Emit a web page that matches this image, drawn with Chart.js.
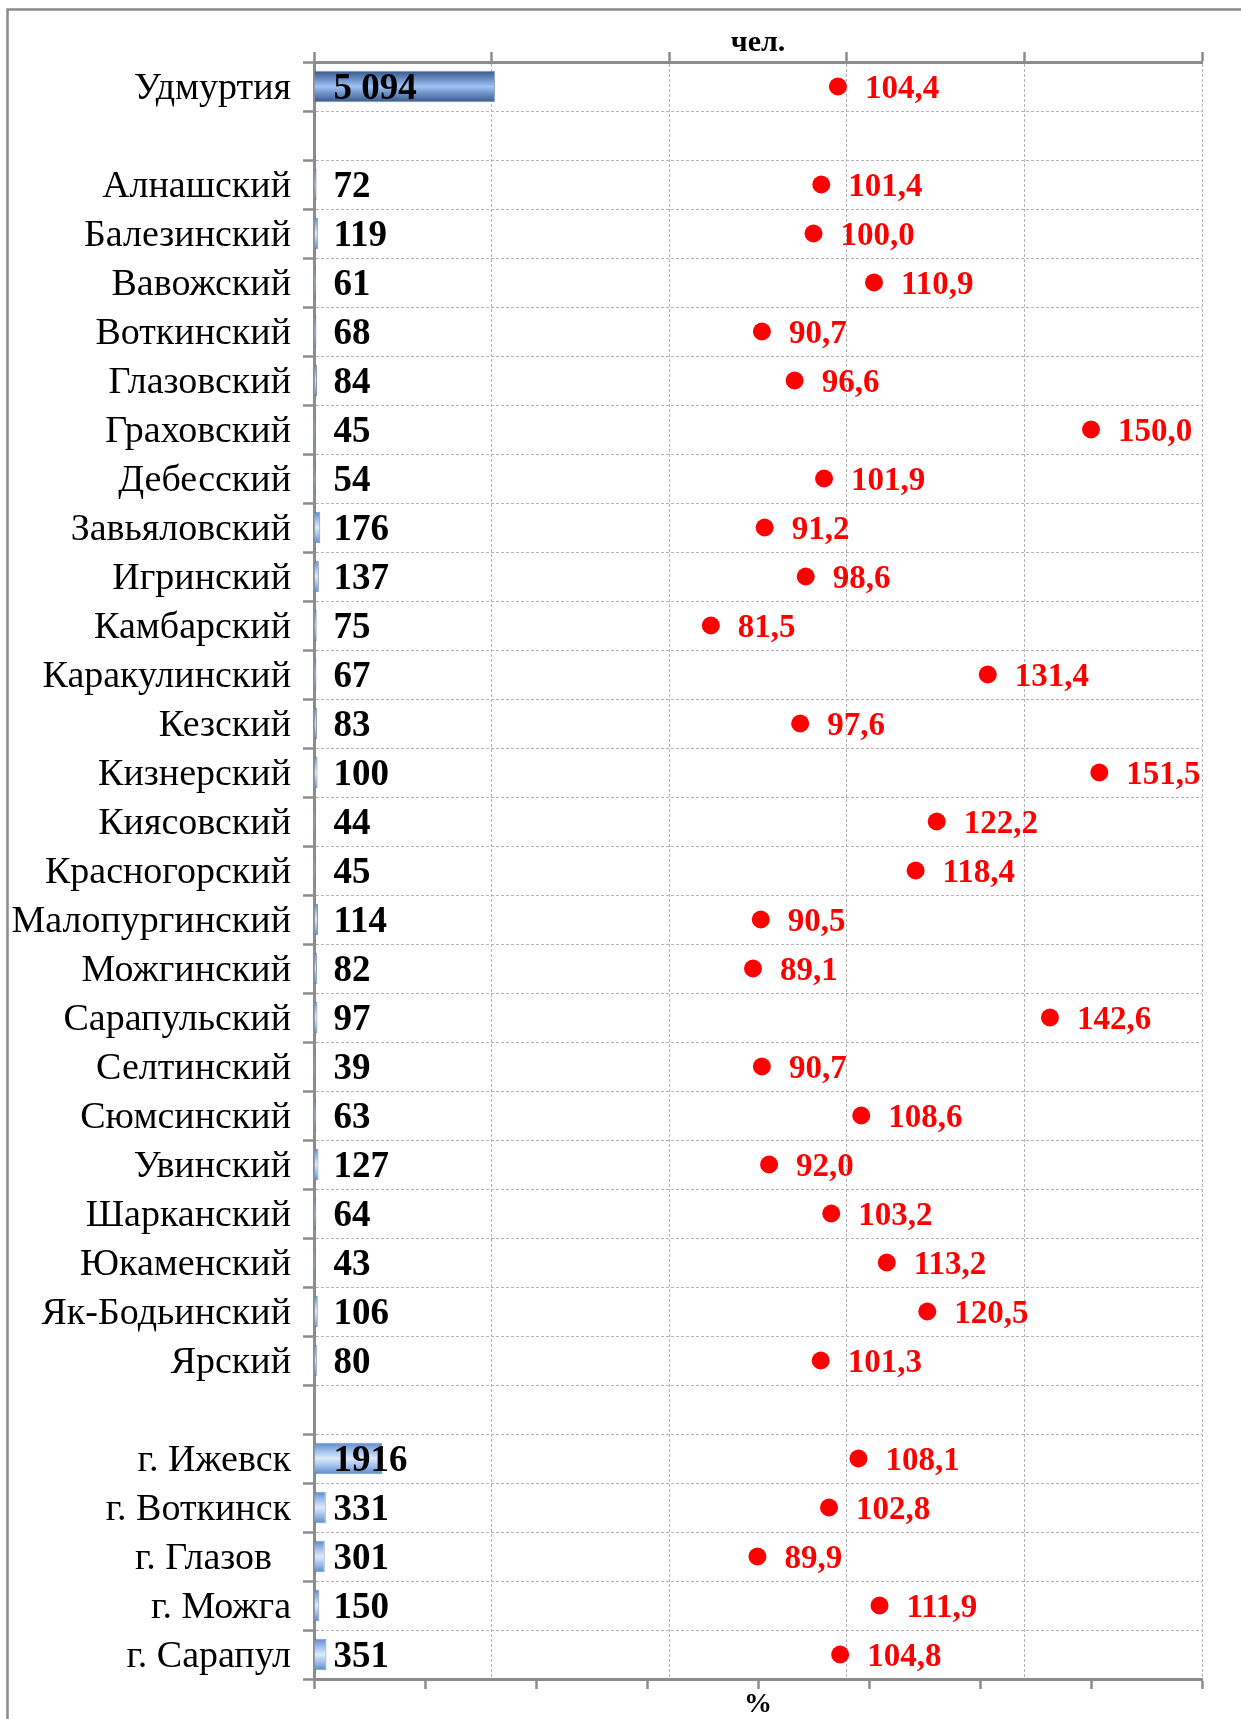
<!DOCTYPE html>
<html lang="ru">
<head>
<meta charset="utf-8">
<title>Удмуртия</title>
<script src="https://cdn.jsdelivr.net/npm/chart.js@4.4.1/dist/chart.umd.min.js"></script>
<style>
  html, body { margin: 0; padding: 0; background: #fff; }
  canvas { display: block; }
</style>
</head>
<body>
<canvas id="chart" width="1241" height="1719"></canvas>
<script>
// rows: republic total, districts, cities (blank rows separate the groups)
const areas = [
  'Удмуртия', '',
  'Алнашский', 'Балезинский', 'Вавожский', 'Воткинский', 'Глазовский',
  'Граховский', 'Дебесский', 'Завьяловский', 'Игринский', 'Камбарский',
  'Каракулинский', 'Кезский', 'Кизнерский', 'Киясовский', 'Красногорский',
  'Малопургинский', 'Можгинский', 'Сарапульский', 'Селтинский', 'Сюмсинский',
  'Увинский', 'Шарканский', 'Юкаменский', 'Як-Бодьинский', 'Ярский', '',
  'г. Ижевск', 'г. Воткинск', 'г. Глазов  ', 'г. Можга', 'г. Сарапул'
];

// people, чел.
const persons = [
  5094, null,
  72, 119, 61, 68, 84,
  45, 54, 176, 137, 75,
  67, 83, 100, 44, 45,
  114, 82, 97, 39, 63,
  127, 64, 43, 106, 80, null,
  1916, 331, 301, 150, 351
];

// change, %
const percents = [
  104.4, null,
  101.4, 100.0, 110.9, 90.7, 96.6,
  150.0, 101.9, 91.2, 98.6, 81.5,
  131.4, 97.6, 151.5, 122.2, 118.4,
  90.5, 89.1, 142.6, 90.7, 108.6,
  92.0, 103.2, 113.2, 120.5, 101.3, null,
  108.1, 102.8, 89.9, 111.9, 104.8
];

const countAxis = { min: 0, max: 25000, step: 5000 };
const percentAxis = { min: 10, max: 170, step: 20 };

const SERIF = '"Liberation Serif", "Times New Roman", serif';
const AXIS_GREY = '#8c8c8c';
const GRID_GREY = '#b3b3b3';
const BAR_SHARE = 0.64;

const fmtCount = (v, i) => i === 0 ? String(v).replace(/\B(?=(\d{3})+(?!\d))/g, ' ') : String(v);
const fmtPercent = v => v.toFixed(1).replace('.', ',');

// vertical gradient for each bar; the total row is darker
function barFill(c) {
  const chart = c.chart;
  const y = chart.scales.y;
  if (!y || c.dataIndex === undefined || !chart.chartArea) return '#7fa5dd';
  const row = y.height / areas.length;
  const h = row * BAR_SHARE;
  const yc = y.getPixelForValue(c.dataIndex);
  const g = chart.ctx.createLinearGradient(0, yc - h / 2, 0, yc + h / 2);
  const stops = c.dataIndex === 0
    ? ['#37578a', '#7195cc', '#a2c2f3', '#7195cc', '#37578a']
    : ['#5b8bcf', '#aac7ef', '#dce9fb', '#aac7ef', '#5b8bcf'];
  [0, 0.3, 0.5, 0.7, 1].forEach((p, k) => g.addColorStop(p, stops[k]));
  return g;
}

const frame = {
  id: 'frame',
  beforeDraw(chart) {
    const { ctx, width, height } = chart;
    ctx.save();
    ctx.fillStyle = '#fff';
    ctx.fillRect(0, 0, width, height);
    ctx.strokeStyle = AXIS_GREY;
    ctx.lineWidth = 2.5;
    ctx.beginPath();
    ctx.moveTo(7.5, height);
    ctx.lineTo(7.5, 9.5);
    ctx.lineTo(width, 9.5);
    ctx.stroke();
    ctx.restore();
  }
};

const valueLabels = {
  id: 'valueLabels',
  afterDatasetsDraw(chart) {
    const ctx = chart.ctx;
    ctx.save();
    ctx.textAlign = 'left';
    ctx.textBaseline = 'middle';

    ctx.font = 'bold 37px ' + SERIF;
    ctx.fillStyle = '#000';
    chart.getDatasetMeta(0).data.forEach((bar, i) => {
      if (persons[i] == null) return;
      ctx.fillText(fmtCount(persons[i], i), bar.base + 19, bar.y + 3);
    });

    ctx.font = 'bold 33px ' + SERIF;
    ctx.fillStyle = '#ff0000';
    chart.getDatasetMeta(1).data.forEach((pt, i) => {
      if (percents[i] == null) return;
      ctx.fillText(fmtPercent(percents[i]), pt.x + 27, pt.y + 3);
    });
    ctx.restore();
  }
};

new Chart(document.getElementById('chart'), {
  type: 'bar',
  data: {
    labels: areas,
    datasets: [
      {
        label: 'чел.',
        data: persons,
        xAxisID: 'x',
        yAxisID: 'y',
        backgroundColor: barFill,
        borderColor: 'rgba(70,105,160,0.7)',
        borderWidth: 1,
        categoryPercentage: 1,
        barPercentage: BAR_SHARE,
        order: 2
      },
      {
        type: 'line',
        label: '%',
        data: percents,
        xAxisID: 'x2',
        yAxisID: 'y',
        showLine: false,
        pointRadius: 9,
        pointHoverRadius: 9,
        pointBorderWidth: 0,
        pointBackgroundColor: '#ff0000',
        backgroundColor: '#ff0000',
        borderColor: '#ff0000',
        order: 1
      }
    ]
  },
  options: {
    indexAxis: 'y',
    responsive: false,
    animation: false,
    devicePixelRatio: 1,
    layout: { padding: { left: 0, right: 39, top: 0, bottom: 0 } },
    plugins: {
      legend: { display: false },
      tooltip: { enabled: false }
    },
    scales: {
      x: {
        type: 'linear',
        position: 'top',
        min: countAxis.min,
        max: countAxis.max,
        ticks: { display: false, stepSize: countAxis.step },
        grid: { color: GRID_GREY, lineWidth: 1, tickLength: 10, tickColor: AXIS_GREY, tickWidth: 2.5 },
        border: { color: AXIS_GREY, width: 3, dash: [3, 2] },
        title: {
          display: true,
          text: 'чел.',
          color: '#000',
          font: { family: SERIF, size: 30, weight: 'bold' },
          padding: { top: 25, bottom: 0 }
        },
        afterFit: s => { s.height = 62; }
      },
      x2: {
        type: 'linear',
        position: 'bottom',
        min: percentAxis.min,
        max: percentAxis.max,
        ticks: { display: false, stepSize: percentAxis.step },
        grid: { drawOnChartArea: false, tickLength: 10, tickColor: AXIS_GREY, tickWidth: 2.5 },
        border: { color: AXIS_GREY, width: 3 },
        title: {
          display: true,
          text: '%',
          color: '#000',
          font: { family: SERIF, size: 28, weight: 'bold', lineHeight: 1 },
          padding: { top: 0, bottom: 0 }
        },
        afterFit: s => { s.height = 40; }
      },
      y: {
        type: 'category',
        position: 'left',
        offset: true,
        grid: { offset: true, color: GRID_GREY, lineWidth: 1, tickLength: 11, tickColor: AXIS_GREY, tickWidth: 2.5 },
        border: { color: AXIS_GREY, width: 3, dash: [3, 2] },
        ticks: { autoSkip: false, padding: 12, labelOffset: 3, color: '#000', font: { family: SERIF, size: 38 } },
        afterFit: s => { s.width = 314; }
      }
    }
  },
  plugins: [frame, valueLabels]
});
</script>
</body>
</html>
